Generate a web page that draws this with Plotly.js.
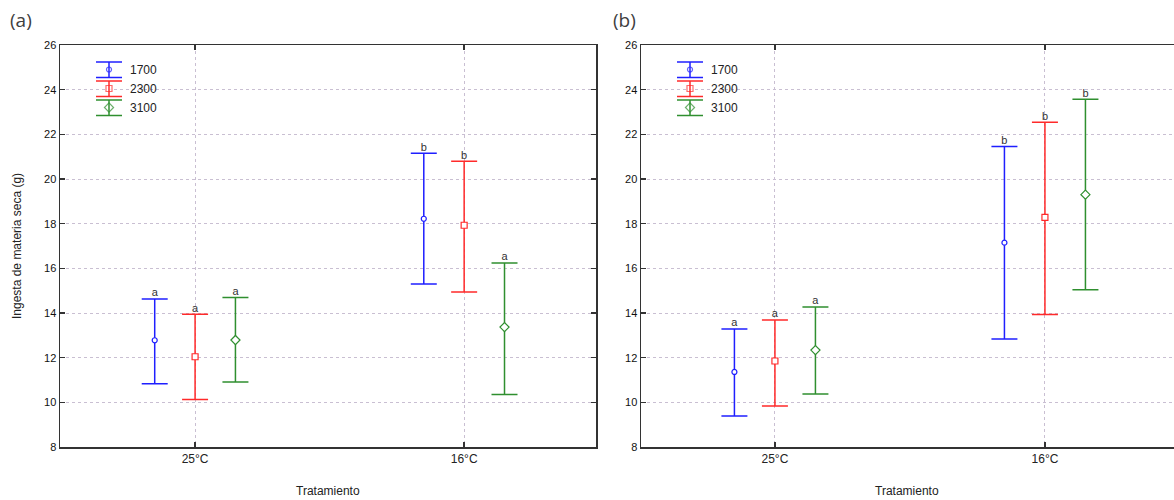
<!DOCTYPE html>
<html>
<head>
<meta charset="utf-8">
<script src="https://cdn.plot.ly/plotly-3.0.1.min.js"></script>
<style>html,body{margin:0;padding:0;background:#fff;}</style>
</head>
<body>
<div id="chart" style="width:1174px;height:500px;"></div>
<script>
// ---- data ----
const categories = ['25°C', '16°C'];
const seriesNames = ['1700', '2300', '3100'];
const yTicks = [8, 10, 12, 14, 16, 18, 20, 22, 24, 26];

// Panel (a)
const a1700Mean  = [12.78, 18.22];
const a1700Upper = [14.63, 21.15];
const a1700Lower = [10.83, 15.30];
const a2300Mean  = [12.04, 17.93];
const a2300Upper = [13.94, 20.79];
const a2300Lower = [10.13, 14.94];
const a3100Mean  = [12.79, 13.37];
const a3100Upper = [14.69, 16.24];
const a3100Lower = [10.91, 10.35];
const a1700Letters = ['a', 'b'];
const a2300Letters = ['a', 'b'];
const a3100Letters = ['a', 'a'];

// Panel (b)
const b1700Mean  = [11.36, 17.15];
const b1700Upper = [13.28, 21.45];
const b1700Lower = [9.39, 12.84];
const b2300Mean  = [11.85, 18.28];
const b2300Upper = [13.69, 22.54];
const b2300Lower = [9.84, 13.93];
const b3100Mean  = [12.34, 19.30];
const b3100Upper = [14.27, 23.57];
const b3100Lower = [10.37, 15.04];
const b1700Letters = ['a', 'b'];
const b2300Letters = ['a', 'b'];
const b3100Letters = ['a', 'b'];

// ---- styles ----
const colors = ['#1f1fff', '#ff2a2a', '#2f8f2f'];
const symbols = ['circle', 'square', 'diamond'];
const msizes = [5, 6, 7];
const offsets = [-0.15, 0, 0.15];
const W = 1174, H = 500;
const FONT = 'Arial, "Liberation Sans", sans-serif';

const panelA = [[a1700Mean, a1700Upper, a1700Lower, a1700Letters],
                [a2300Mean, a2300Upper, a2300Lower, a2300Letters],
                [a3100Mean, a3100Upper, a3100Lower, a3100Letters]];
const panelB = [[b1700Mean, b1700Upper, b1700Lower, b1700Letters],
                [b2300Mean, b2300Upper, b2300Lower, b2300Letters],
                [b3100Mean, b3100Upper, b3100Lower, b3100Letters]];

const traces = [];
function addPanel(panel, xa, ya) {
  panel.forEach((s, i) => {
    const [mean, up, lo, letters] = s;
    const xs = categories.map((c, k) => k + offsets[i]);
    traces.push({
      type: 'scatter', mode: 'markers', x: xs, y: mean, xaxis: xa, yaxis: ya,
      name: seriesNames[i], showlegend: false, cliponaxis: false,
      marker: {symbol: symbols[i], size: msizes[i], color: '#ffffff',
               line: {color: colors[i], width: 1.2}},
      error_y: {type: 'data', symmetric: false,
                array: mean.map((m, k) => up[k] - m),
                arrayminus: mean.map((m, k) => m - lo[k]),
                color: colors[i], thickness: 1.5, width: 13}
    });
    traces.push({
      type: 'scatter', mode: 'text', x: xs, y: up, xaxis: xa, yaxis: ya,
      text: letters, textposition: 'top center', showlegend: false,
      cliponaxis: false, hoverinfo: 'skip',
      textfont: {family: FONT, size: 11, color: '#333'}
    });
  });
}
addPanel(panelA, 'x', 'y');
addPanel(panelB, 'x2', 'y2');

// manual legends (error-bar glyphs) drawn in pixel space
const shapes = [];
const annotations = [];
const legendMarkerX = [], legendMarkerY = [], legendColors = [], legendSymbols = [], legendSizes = [];
[60, 641].forEach(L => {
  seriesNames.forEach((n, i) => {
    const cy = 69.5 + i * 19;
    const cx = L + 49;
    const lineStyle = {color: colors[i], width: 1.5};
    shapes.push({type: 'line', xref: 'x3', yref: 'y3', x0: cx - 13, x1: cx + 13, y0: cy - 7.5, y1: cy - 7.5, line: lineStyle});
    shapes.push({type: 'line', xref: 'x3', yref: 'y3', x0: cx - 13, x1: cx + 13, y0: cy + 8, y1: cy + 8, line: lineStyle});
    shapes.push({type: 'line', xref: 'x3', yref: 'y3', x0: cx, x1: cx, y0: cy - 7.5, y1: cy + 8, line: lineStyle});
    legendMarkerX.push(cx); legendMarkerY.push(cy);
    legendColors.push(colors[i]); legendSymbols.push(symbols[i]); legendSizes.push(msizes[i]);
    annotations.push({xref: 'x3', yref: 'y3', x: L + 68, y: cy, text: n, showarrow: false,
      xanchor: 'left', yanchor: 'middle', font: {family: FONT, size: 12, color: '#222'}});
  });
});
traces.push({
  type: 'scatter', mode: 'markers', x: legendMarkerX, y: legendMarkerY, xaxis: 'x3', yaxis: 'y3',
  showlegend: false, hoverinfo: 'skip', cliponaxis: false,
  marker: {symbol: legendSymbols, size: legendSizes, color: '#ffffff',
           line: {color: legendColors, width: 1.2}}
});

// titles
annotations.push({xref: 'paper', yref: 'paper', x: 8 / W, y: 1 - 20 / H, text: '(a)', showarrow: false,
  xanchor: 'left', yanchor: 'middle', font: {family: '"Open Sans", sans-serif', size: 19, color: '#404040'}});
annotations.push({xref: 'paper', yref: 'paper', x: 611 / W, y: 1 - 20 / H, text: '(b)', showarrow: false,
  xanchor: 'left', yanchor: 'middle', font: {family: '"Open Sans", sans-serif', size: 19, color: '#404040'}});
annotations.push({xref: 'paper', yref: 'paper', x: 328 / W, y: 1 - 491 / H, text: 'Tratamiento', showarrow: false,
  xanchor: 'center', yanchor: 'middle', font: {family: FONT, size: 12, color: '#222'}});
annotations.push({xref: 'paper', yref: 'paper', x: 907 / W, y: 1 - 491 / H, text: 'Tratamiento', showarrow: false,
  xanchor: 'center', yanchor: 'middle', font: {family: FONT, size: 12, color: '#222'}});
annotations.push({xref: 'paper', yref: 'paper', x: 17 / W, y: 1 - 246 / H, text: 'Ingesta de materia seca (g)', showarrow: false,
  textangle: -90, xanchor: 'center', yanchor: 'middle', font: {family: FONT, size: 12, color: '#222'}});

const yDomain = [(H - 447) / H, (H - 45) / H];
const gridStyle = {showgrid: true, gridcolor: '#c9bfd2', griddash: 'dot', gridwidth: 1};
const axisLine = {showline: true, linecolor: '#333', linewidth: 1.5, ticks: 'inside', ticklen: 5,
  tickcolor: '#333', tickwidth: 1.5, zeroline: false, fixedrange: true,
  tickfont: {family: FONT, size: 11, color: '#111'}};

const yBase = Object.assign({}, axisLine, gridStyle, {
  range: [8, 26], tickvals: yTicks, ticktext: yTicks.map(String), domain: yDomain});
const xBase = Object.assign({}, axisLine, gridStyle, {
  tickvals: categories.map((c, k) => k), ticktext: categories,
  tickfont: {family: FONT, size: 12, color: '#222'}});

const layout = {
  width: W, height: H,
  margin: {l: 0, r: 0, t: 0, b: 0},
  paper_bgcolor: '#ffffff', plot_bgcolor: 'rgba(0,0,0,0)',
  showlegend: false,
  xaxis: Object.assign({}, xBase, {domain: [60 / W, 596 / W], range: [-0.502, 1.49], mirror: 'ticks', anchor: 'y'}),
  yaxis: Object.assign({}, yBase, {mirror: 'ticks', anchor: 'x'}),
  xaxis2: Object.assign({}, xBase, {domain: [641 / W, 1], range: [-0.496, 1.478], mirror: 'ticks', anchor: 'y2'}),
  yaxis2: Object.assign({}, yBase, {mirror: false, anchor: 'x2'}),
  xaxis3: {domain: [0, 1], range: [0, W], visible: false, fixedrange: true, anchor: 'y3'},
  yaxis3: {domain: [0, 1], range: [H, 0], visible: false, fixedrange: true, anchor: 'x3'},
  shapes: shapes,
  annotations: annotations
};

Plotly.newPlot('chart', traces, layout, {staticPlot: true, displayModeBar: false});
</script>
</body>
</html>
